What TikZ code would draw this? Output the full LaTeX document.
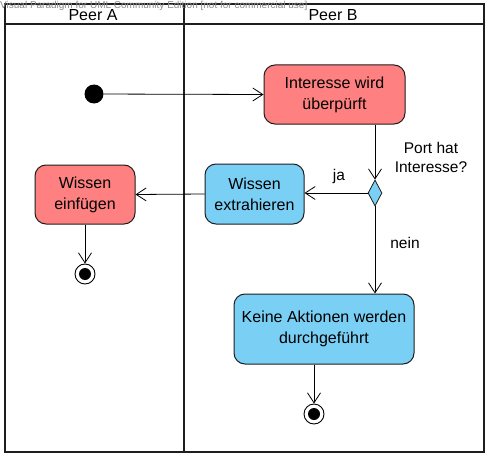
\documentclass[tikz,border=0pt]{standalone}
\usepackage{fontspec}
\setmainfont{Liberation Sans}
\usetikzlibrary{arrows.meta,shapes.geometric}
\definecolor{actred}{RGB}{255,128,128}
\definecolor{actblue}{RGB}{122,207,245}
\definecolor{frameline}{RGB}{30,30,30}
\definecolor{wm}{RGB}{140,140,140}
\tikzset{
  act/.style={draw=frameline, line width=1pt, rounded corners=11pt, align=center, font=\fontsize{16}{21}\selectfont, inner sep=0pt},
  redact/.style={act, fill=actred},
  blueact/.style={act, fill=actblue},
  lane/.style={draw=frameline, line width=2pt},
  flow/.style={draw=black, line width=0.8pt, -{Straight Barb[length=10pt,width=13pt,line width=0.8pt]}},
  lbl/.style={font=\fontsize{15.5}{19}\selectfont, align=center, inner sep=0pt},
  hdr/.style={font=\fontsize{16}{18}\selectfont, inner sep=0pt}
}
\begin{document}
\begin{tikzpicture}[x=1pt,y=-1pt]
\useasboundingbox (0,0) rectangle (490,460);
\fill[white] (0,0) rectangle (490,460);
% frame
\draw[lane] (5,4) rectangle (484,452);
\draw[lane] (5,24) -- (484,24);
\draw[lane] (184,4) -- (184,452);
\node[hdr] (ha) at (93,15) {Peer A};
\node[hdr] (hb) at (333,15) {Peer B};
\node[anchor=west, inner sep=0pt, text=wm, font=\fontsize{10}{10}\selectfont] (wmk) at (0,6) {Visual Paradigm for UML Community Edition [not for commercial use]};
% nodes
\node[circle, fill=black, minimum size=19pt, inner sep=0pt] (start) at (94,94) {};
\node[redact, minimum width=141pt, minimum height=59pt] (check) at (334.5,94.5) {Interesse wird\\überpürft};
\node[diamond, draw=frameline, fill=actblue, line width=0.8pt, minimum width=14pt, minimum height=26pt, inner sep=0pt] (dec) at (375,193) {};
\node[blueact, minimum width=99pt, minimum height=60pt] (extr) at (254.5,194) {Wissen\\extrahieren};
\node[redact, minimum width=100pt, minimum height=59pt] (einf) at (85,194.5) {Wissen\\einfügen};
\node[blueact, minimum width=180pt, minimum height=70pt] (keine) at (324,329) {Keine Aktionen werden\\durchgeführt};
\node[circle, draw=black, line width=0.9pt, fill=white, minimum size=20pt, inner sep=0pt] (end1) at (85,274) {};
\node[circle, fill=black, minimum size=12pt, inner sep=0pt] at (end1.center) {};
\node[circle, draw=black, line width=0.9pt, fill=white, minimum size=20pt, inner sep=0pt] (end2) at (314,414) {};
\node[circle, fill=black, minimum size=12pt, inner sep=0pt] at (end2.center) {};
% labels
\node[lbl] (q) at (431,157) {Port hat\\Interesse?};
\node[lbl] (ja) at (339,176) {ja};
\node[lbl] (nein) at (405,243) {nein};
% flows
\draw[flow] (start) -- (check.west);
\draw[flow] (check.south -| dec.north) -- (dec.north);
\draw[flow] (dec.west) -- (extr.east |- dec.west);
\draw[flow] (extr.west) -- (einf.east);
\draw[flow] (einf.south) -- (end1.north);
\draw[flow] (dec.south) -- (keine.north -| dec.south);
\draw[flow] (keine.south -| end2.north) -- (end2.north);
\end{tikzpicture}
\end{document}
